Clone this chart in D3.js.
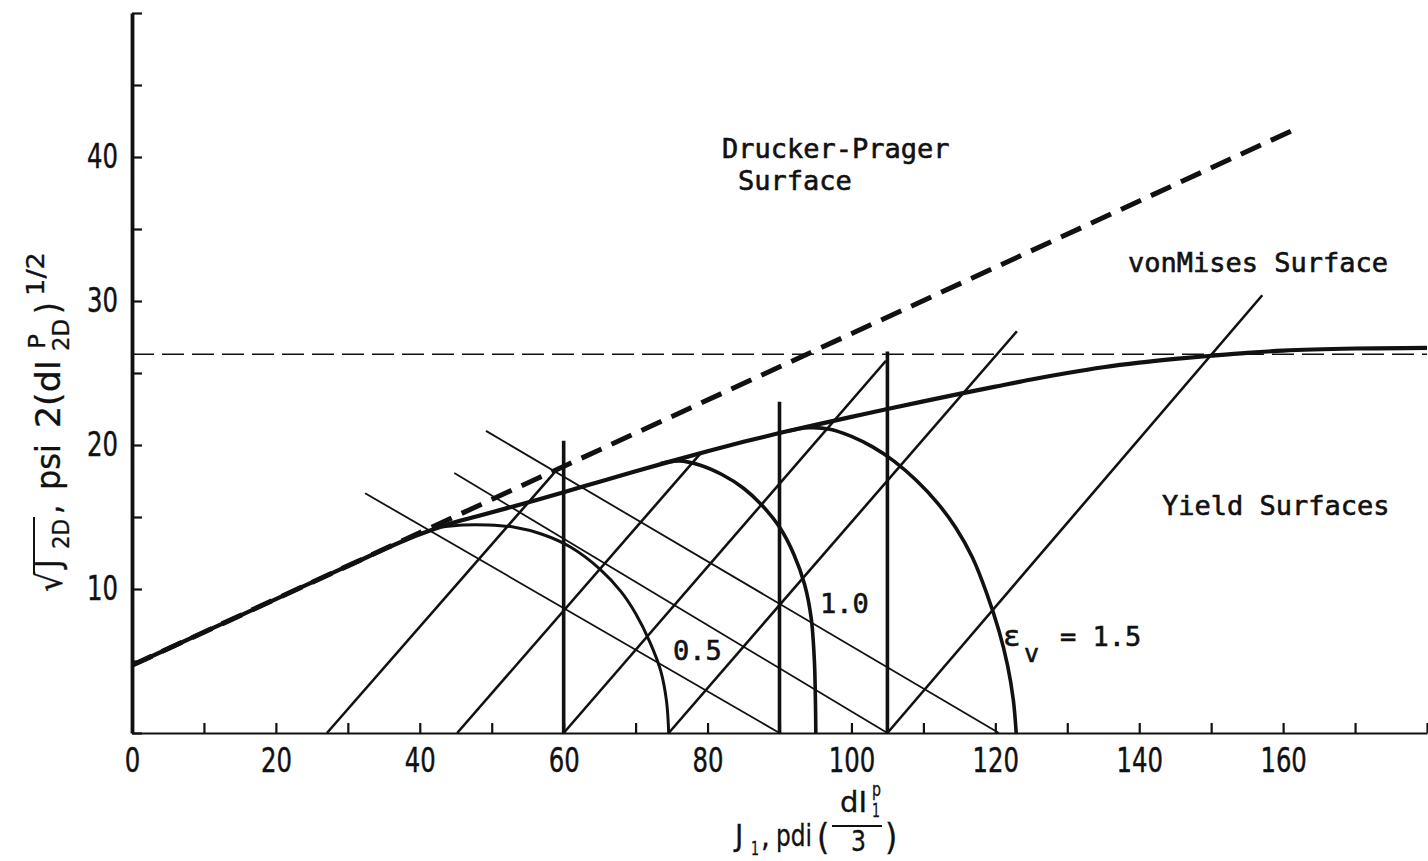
<!DOCTYPE html>
<html>
<head>
<meta charset="utf-8">
<script src="https://cdn.jsdelivr.net/npm/d3@7"></script>
<style>
  html, body { margin: 0; padding: 0; background: #fff; }
  svg { display: block; }
  text { white-space: pre; }
</style>
</head>
<body>
<svg id="chart" width="1428" height="861"></svg>
<script>
// ---- data (J1 on x, sqrt(J2D) on y) ----
const envelopeX = [0, 10, 20, 30, 40, 44, 48, 52, 56, 60, 65, 70, 75, 80, 85, 90, 95, 100,
  105, 110, 115, 120, 125, 130, 135, 140, 145, 150, 155, 160, 170, 180];
const envelopeY = [4.7, 7.0, 9.3, 11.6, 13.8, 14.5, 15.05, 15.6, 16.15, 16.72, 17.45, 18.17,
  18.88, 19.57, 20.22, 20.83, 21.4, 21.95, 22.5, 23.03, 23.55, 24.05, 24.55, 25.0, 25.4,
  25.72, 25.98, 26.2, 26.4, 26.55, 26.7, 26.75];

const druckerPrager = [[0, 4.7], [162.4, 42.1]];
const vonMisesLevel = 26.3;

const cap05 = [[43, 14.3], [46, 14.45], [49.5, 14.45], [53, 14.3], [57, 13.8], [61, 12.9],
  [65, 11.4], [68, 9.8], [70, 8.3], [72, 6.3], [73.5, 4.3], [74.3, 2.2], [74.6, 0]];
const cap10 = [[73.5, 18.72], [76, 18.9], [79, 18.6], [82, 17.95], [85, 17.0], [87.5, 15.85],
  [90, 14.3], [92, 12.4], [93.5, 10.3], [94.4, 8.0], [94.85, 5.0], [95, 2.0], [95.05, 0]];
const cap15 = [[91, 20.95], [94, 21.2], [97, 21.1], [100, 20.6], [103, 19.85], [106, 18.85],
  [109, 17.55], [112, 15.95], [114.5, 14.25], [116.8, 12.2], [118.8, 9.7], [120.5, 7.1],
  [121.7, 4.7], [122.5, 2.3], [122.9, 0]];
const capLabels = ["0.5", "1.0", "1.5"];

// increment vectors rising from the J1 axis
const riseLines = [[27.1, 0, 59.1, 18.3], [45.2, 0, 79.0, 19.4], [60, 0, 104.8, 25.85],
  [74.6, 0, 123.0, 27.9], [105, 0, 157.1, 30.4]];
// falling normals
const fallLines = [[32.4, 16.65, 90, 0], [44.8, 18.05, 105, 0], [49.2, 20.98, 120.5, 0]];
// vertical stress paths: [J1, top]
const stressPaths = [[60, 20.3], [90, 23.0], [105, 26.5]];

const xTicks = d3.range(0, 181, 10);
const xTickLabels = [0, 20, 40, 60, 80, 100, 120, 140, 160];
const yTicks = d3.range(0, 51, 5);
const yTickLabels = [10, 20, 30, 40];

// ---- drawing ----
const ink = "#111";
const mono = "'DejaVu Sans Mono', 'Liberation Mono', monospace";
const narrow = "'Liberation Sans Narrow', 'DejaVu Sans Condensed', 'Liberation Sans', sans-serif";

const svg = d3.select("#chart");
const x = d3.scaleLinear().domain([0, 180]).range([132, 1427]);
const y = d3.scaleLinear().domain([0, 50]).range([733, 13]);
const line = d3.line().x(d => x(d[0])).y(d => y(d[1]));

svg.append("rect").attr("width", 1428).attr("height", 861).attr("fill", "#fff");

// vonMises level
svg.append("line")
  .attr("x1", x(0)).attr("x2", x(180))
  .attr("y1", y(vonMisesLevel)).attr("y2", y(vonMisesLevel))
  .attr("stroke", ink).attr("stroke-width", 1.5).attr("stroke-dasharray", "22,8");

// Drucker-Prager line
svg.append("path").datum(druckerPrager)
  .attr("d", line).attr("fill", "none").attr("stroke", ink)
  .attr("stroke-width", 5).attr("stroke-dasharray", "22,11");

svg.selectAll(".fall").data(fallLines).enter().append("line")
  .attr("x1", d => x(d[0])).attr("y1", d => y(d[1]))
  .attr("x2", d => x(d[2])).attr("y2", d => y(d[3]))
  .attr("stroke", ink).attr("stroke-width", 1.8);

svg.selectAll(".rise").data(riseLines).enter().append("line")
  .attr("x1", d => x(d[0])).attr("y1", d => y(d[1]))
  .attr("x2", d => x(d[2])).attr("y2", d => y(d[3]))
  .attr("stroke", ink).attr("stroke-width", 2.6);

svg.selectAll(".path").data(stressPaths).enter().append("line")
  .attr("x1", d => x(d[0])).attr("y1", y(0))
  .attr("x2", d => x(d[0])).attr("y2", d => y(d[1]))
  .attr("stroke", ink).attr("stroke-width", 3.6);

const capLine = d3.line().x(d => x(d[0])).y(d => y(d[1])).curve(d3.curveCatmullRom);
[cap05, cap10, cap15].forEach((c, i) => {
  svg.append("path").datum(c).attr("d", capLine).attr("fill", "none")
    .attr("stroke", ink).attr("stroke-width", i === 0 ? 3 : 3.6);
});

svg.append("path").datum(d3.zip(envelopeX, envelopeY))
  .attr("d", line.curve(d3.curveMonotoneX)).attr("fill", "none")
  .attr("stroke", ink).attr("stroke-width", 4.2);

// axes
const xAxis = svg.append("g").attr("transform", `translate(0,${y(0)})`)
  .call(d3.axisBottom(x).tickValues(xTicks).tickSize(-10).tickSizeOuter(0).tickPadding(16)
    .tickFormat(d => xTickLabels.includes(d) ? d : ""));
const yAxis = svg.append("g").attr("transform", `translate(${x(0)},0)`)
  .call(d3.axisLeft(y).tickValues(yTicks).tickSize(-10).tickSizeOuter(0).tickPadding(14)
    .tickFormat(d => yTickLabels.includes(d) ? d : ""));
[xAxis, yAxis].forEach(a => {
  a.selectAll("line").attr("stroke", ink).attr("stroke-width", 2.2);
  a.selectAll("text").attr("fill", ink).attr("font-family", narrow).attr("font-size", 33)
    .attr("stroke", ink).attr("stroke-width", 0.4)
    .each(function () {
      const w = this.getComputedTextLength();
      if (w > 0) d3.select(this).attr("textLength", w * 0.82).attr("lengthAdjust", "spacingAndGlyphs");
    });
});
xAxis.select(".domain").attr("stroke", ink).attr("stroke-width", 2);
yAxis.select(".domain").attr("stroke", ink).attr("stroke-width", 3.8);

// annotations
const notes = svg.append("g").attr("font-family", mono).attr("font-size", 27)
  .attr("fill", ink).attr("stroke", ink).attr("stroke-width", 0.6);
notes.append("text").attr("x", 722).attr("y", 158).text("Drucker-Prager");
notes.append("text").attr("x", 738).attr("y", 190).text("Surface");
notes.append("text").attr("x", 1128).attr("y", 272).text("vonMises Surface");
notes.append("text").attr("x", 1162).attr("y", 515).text("Yield Surfaces");
notes.append("text").attr("x", 673).attr("y", 660).text(capLabels[0]);
notes.append("text").attr("x", 820).attr("y", 613).text(capLabels[1]);
notes.append("text").attr("x", 1003).attr("y", 646).attr("font-size", 29).text("ε");
notes.append("text").attr("x", 1024).attr("y", 662).attr("font-size", 25).text("v");
notes.append("text").attr("x", 1060).attr("y", 646).text("= " + capLabels[2]);

// text piece; len squeezes or stretches the glyphs to the width seen in the figure
function put(g, t, px, py, size, len) {
  const e = g.append("text").attr("x", px).attr("y", py).attr("font-size", size).text(t);
  if (len) e.attr("textLength", len).attr("lengthAdjust", "spacingAndGlyphs");
  return e;
}

// x title: J1, pdi (dI1p / 3)
const xt = svg.append("g").attr("font-family", narrow).attr("fill", ink)
  .attr("stroke", ink).attr("stroke-width", 0.3);
put(xt, "J", 735, 846, 31);
put(xt, "1", 751, 855, 20, 8);
put(xt, ",", 761, 846, 31);
put(xt, "pdi", 776, 846, 31, 36);
put(xt, "(", 817, 849, 35);
put(xt, "dI", 840, 812, 29, 27);
put(xt, "p", 872, 796, 19, 9);
put(xt, "1", 872, 817, 20, 8);
xt.append("line").attr("x1", 832).attr("x2", 882).attr("y1", 826).attr("y2", 826)
  .attr("stroke", ink).attr("stroke-width", 2);
put(xt, "3", 851, 851, 29, 15);
put(xt, ")", 885, 849, 35);

// y title: sqrt(J2D), psi 2(dI2D^P)^1/2  (laid out along the rotated baseline)
const yt = svg.append("g").attr("font-family", narrow).attr("fill", ink)
  .attr("stroke", ink).attr("stroke-width", 0.3)
  .attr("transform", "translate(60,592) rotate(-90)");
put(yt, "√", 0, 2, 35);
put(yt, "J", 24, 0, 33);
put(yt, "2D", 43, 9, 23, 30);
yt.append("line").attr("x1", 18).attr("x2", 75).attr("y1", -26).attr("y2", -26)
  .attr("stroke", ink).attr("stroke-width", 2);
put(yt, ",", 78, 0, 33);
put(yt, "psi", 102, 0, 33, 46);
put(yt, "2(dI", 164, 0, 33, 68);
put(yt, "P", 243, -15, 23, 15);
put(yt, "2D", 241, 9, 23, 32);
put(yt, ")", 278, 0, 33);
put(yt, "1/2", 296, -16, 24, 44);
</script>
</body>
</html>
